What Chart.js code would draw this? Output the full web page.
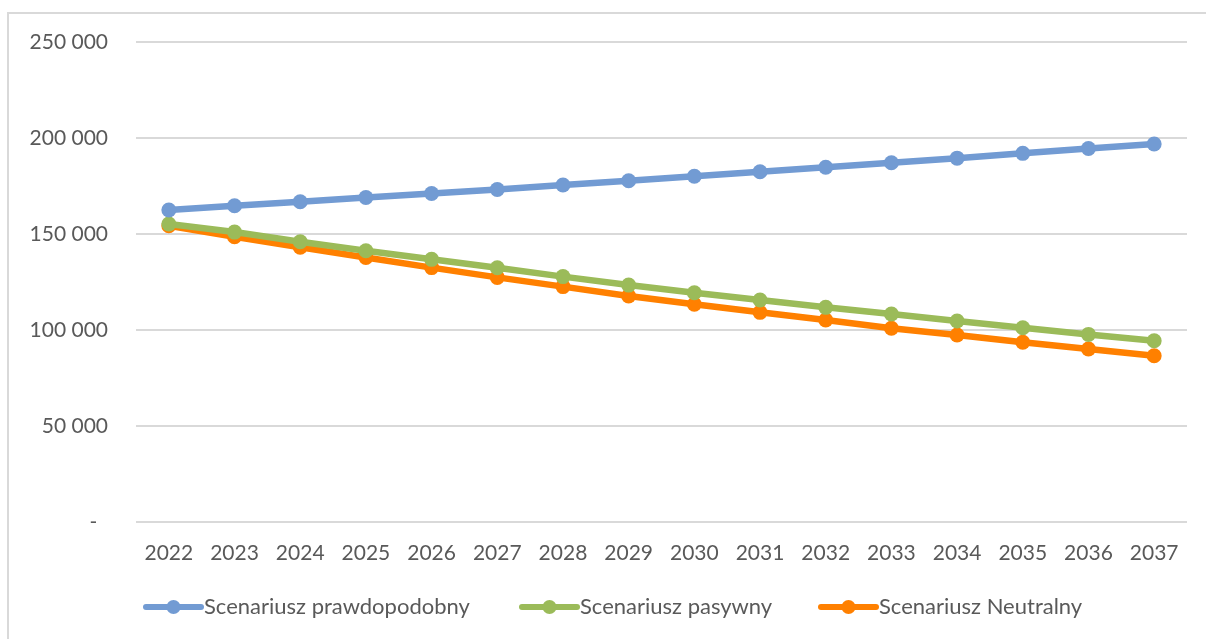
<!DOCTYPE html>
<html>
<head>
<meta charset="utf-8">
<script src="https://cdn.jsdelivr.net/npm/chart.js@4"></script>
<style>
  html, body { margin: 0; padding: 0; background: #fff; overflow: hidden; }
  #wrap { position: relative; width: 1206px; height: 639px; }
  #frame { position: absolute; left: 7px; top: 12px; width: 1210px; height: 640px;
           border-left: 2px solid #D9D9D9; border-top: 2px solid #D9D9D9; box-sizing: border-box; }
  canvas { position: absolute; left: 0; top: 0; }
</style>
</head>
<body>
<div id="wrap">
  <div id="frame"></div>
  <canvas id="scenChart" width="1206" height="639"></canvas>
</div>
<script>
const years = ["2022", "2023", "2024", "2025", "2026", "2027", "2028", "2029",
               "2030", "2031", "2032", "2033", "2034", "2035", "2036", "2037"];

const prawdopodobny = [162500, 164700, 166800, 169000, 171100, 173200, 175500, 177700,
                       180100, 182400, 184800, 187100, 189500, 192000, 194500, 196900];
const pasywny = [155200, 151000, 146000, 141300, 136800, 132400, 127800, 123400,
                 119400, 115600, 111800, 108300, 104700, 101200, 97700, 94400];
const neutralny = [154300, 148600, 143100, 137800, 132500, 127400, 122600, 117700,
                   113400, 109200, 105200, 100900, 97400, 93600, 90100, 86600];

const yTicks = [0, 50000, 100000, 150000, 200000, 250000];

const textColor = '#595959';
const fontFamily = 'Lato, "Open Sans", sans-serif';

function fmt(v) {
    if (v === 0) return '-  ';
    return String(v).replace(/\B(?=(\d{3})+(?!\d))/g, ' ');
}

// legend drawn by hand: line with a dot in the middle, like the office chart
const lineLegend = {
    id: 'lineLegend',
    afterDraw(chart) {
        const ctx = chart.ctx;
        const items = [146, 522, 821];
        const y = 607;
        ctx.save();
        ctx.font = '22px ' + fontFamily;
        ctx.textBaseline = 'middle';
        chart.data.datasets.forEach((ds, i) => {
            const x = items[i];
            ctx.strokeStyle = ds.borderColor;
            ctx.lineWidth = 6;
            ctx.lineCap = 'round';
            ctx.beginPath();
            ctx.moveTo(x, y);
            ctx.lineTo(x + 55, y);
            ctx.stroke();
            ctx.fillStyle = ds.borderColor;
            ctx.beginPath();
            ctx.arc(x + 27.5, y, 7, 0, Math.PI * 2);
            ctx.fill();
            ctx.fillStyle = textColor;
            ctx.fillText(ds.label, x + 58, y);
        });
        ctx.restore();
    }
};

function makeSet(label, data, color) {
    return {
        label: label,
        data: data,
        borderColor: color,
        backgroundColor: color,
        borderWidth: 6.5,
        pointRadius: 7.5,
        pointHoverRadius: 7.5,
        pointBorderWidth: 0,
        tension: 0
    };
}

const ctx = document.getElementById('scenChart').getContext('2d');
const scenChart = new Chart(ctx, {
    type: 'line',
    data: {
        labels: years,
        datasets: [
            makeSet('Scenariusz prawdopodobny', prawdopodobny, '#729BD3'),
            makeSet('Scenariusz pasywny', pasywny, '#9BBB59'),
            makeSet('Scenariusz Neutralny', neutralny, '#FF8000')
        ]
    },
    options: {
        responsive: false,
        animation: false,
        layout: { padding: { top: 42, right: 19, left: 0, bottom: 0 } },
        plugins: {
            legend: { display: false },
            tooltip: { enabled: false }
        },
        scales: {
            x: {
                offset: true,
                grid: { display: false, drawTicks: false },
                border: { display: false },
                ticks: {
                    color: textColor,
                    font: { family: fontFamily, size: 21 },
                    padding: 19,
                    maxRotation: 0,
                    autoSkip: false
                },
                afterFit(scale) { scale.height = 117; }
            },
            y: {
                min: 0,
                max: 250000,
                afterBuildTicks(scale) { scale.ticks = yTicks.map(v => ({ value: v })); },
                grid: { color: '#D9D9D9', lineWidth: 2, drawTicks: false },
                border: { display: false },
                ticks: {
                    color: textColor,
                    font: { family: fontFamily, size: 21 },
                    padding: 28,
                    callback: v => fmt(v)
                },
                afterFit(scale) { scale.width = 136; }
            }
        }
    },
    plugins: [lineLegend]
});
</script>
</body>
</html>
